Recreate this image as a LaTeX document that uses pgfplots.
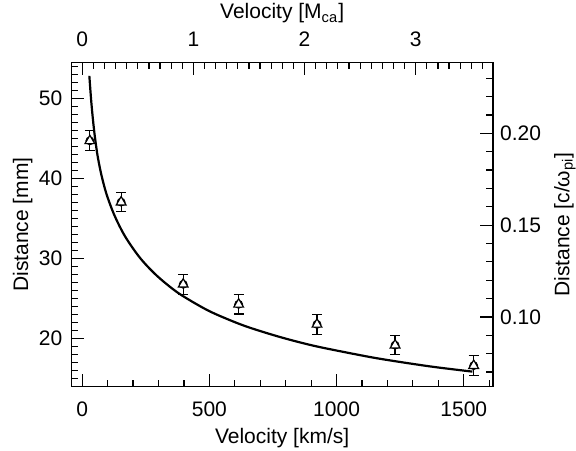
\documentclass[border=0pt]{standalone}
\usepackage{fontspec}
\setmainfont{Liberation Sans}
\usepackage{pgfplots}
\pgfplotsset{compat=1.18}
\begin{document}
\begin{tikzpicture}[font=\fontsize{10.5}{12.6}\selectfont]
\pgfplotsset{
  common/.style={
    scale only axis, width=210.9pt, height=162.3pt,
    at={(0,0)}, anchor=south west,
    tick align=inside,
    major tick length=6.5pt, minor tick length=3.4pt,
    every tick/.style={line width=0.6pt, black},
    axis line style={line width=0.6pt},
    /pgf/number format/assume math mode=true,
    /pgf/number format/1000 sep={},
    ticklabel style={font=\fontsize{10.5}{12.6}\selectfont},
    label style={font=\fontsize{10.5}{12.6}\selectfont},
  }
}
\begin{axis}[common, name=ax,
  xmin=-43, xmax=1615, ymin=14, ymax=54.5,
  xtick={0,500,1000,1500}, minor xtick={0,100,...,1600},
  ytick={20,30,40,50}, minor ytick={14,15,...,54},
  xtick pos=bottom, ytick pos=left,
  xticklabel style={yshift=-4.2pt},
  yticklabel style={xshift=-1pt},
  xlabel={Velocity [km/s]}, ylabel={Distance [mm]},
  xlabel style={at={(axis description cs:0.5,-0.157)}, anchor=center},
  ylabel style={at={(axis description cs:-0.1152,0.5)}, anchor=center},
]
\addplot[line width=1.1pt, smooth, tension=0.5, black] coordinates {
(28,52.8) (35,49.8) (42,47.4) (49,45.4) (60,42.9) (75,40.5)
(95,38.1) (126,35.45) (168,32.8) (227,30.1) (293,27.88) (378,25.7)
(489,23.62) (580,22.33) (659,21.38) (785,20.15) (921,19.05) (1118,17.8)
(1230,17.2) (1379,16.5) (1534,15.9)};
\addplot[only marks, mark=none, black,
  error bars/.cd, y dir=both, y explicit,
  error bar style={line width=0.6pt, black},
  error mark options={rotate=90, mark size=2.5pt, line width=0.6pt, black}]
coordinates {
(30,44.7) +- (0,1.25)
(153,37.05) +- (0,1.2)
(397,26.8) +- (0,1.25)
(615,24.3) +- (0,1.2)
(923,21.8) +- (0,1.25)
(1230,19.2) +- (0,1.2)
(1539,16.65) +- (0,1.25)
};
\addplot[only marks, black, mark=triangle*, mark size=2.8pt,
  mark options={fill=white, draw=black, line width=0.6pt}]
coordinates {
(30,44.7) (153,37.05) (397,26.8) (615,24.3) (923,21.8) (1230,19.2) (1539,16.65)
};
\end{axis}
\begin{axis}[common,
  xmin=-0.0984, xmax=3.6957, ymin=0.0619, ymax=0.2387,
  xtick pos=top, ytick pos=right, xticklabel pos=top, yticklabel pos=right,
  xtick={0,1,2,3}, minor xtick={0,0.1,...,3.7},
  ytick={0.10,0.15,0.20}, minor ytick={0.07,0.08,...,0.23},
  yticklabel style={/pgf/number format/.cd, fixed, fixed zerofill, precision=2},
  xticklabel style={yshift=4.2pt},
  xlabel={Velocity [M\textsubscript{ca}]}, ylabel={Distance [c/ω\textsubscript{pi}]},
  xlabel style={at={(axis description cs:0.5,1.151)}, anchor=center},
  ylabel style={at={(axis description cs:1.1707,0.5)}, anchor=center},
]
\addplot[draw=none] coordinates {(1,0.1)};
\end{axis}
\pgfresetboundingbox
\path[use as bounding box] (-35.65pt,-32pt) rectangle (252.4pt,193.45pt);
\end{tikzpicture}
\end{document}
